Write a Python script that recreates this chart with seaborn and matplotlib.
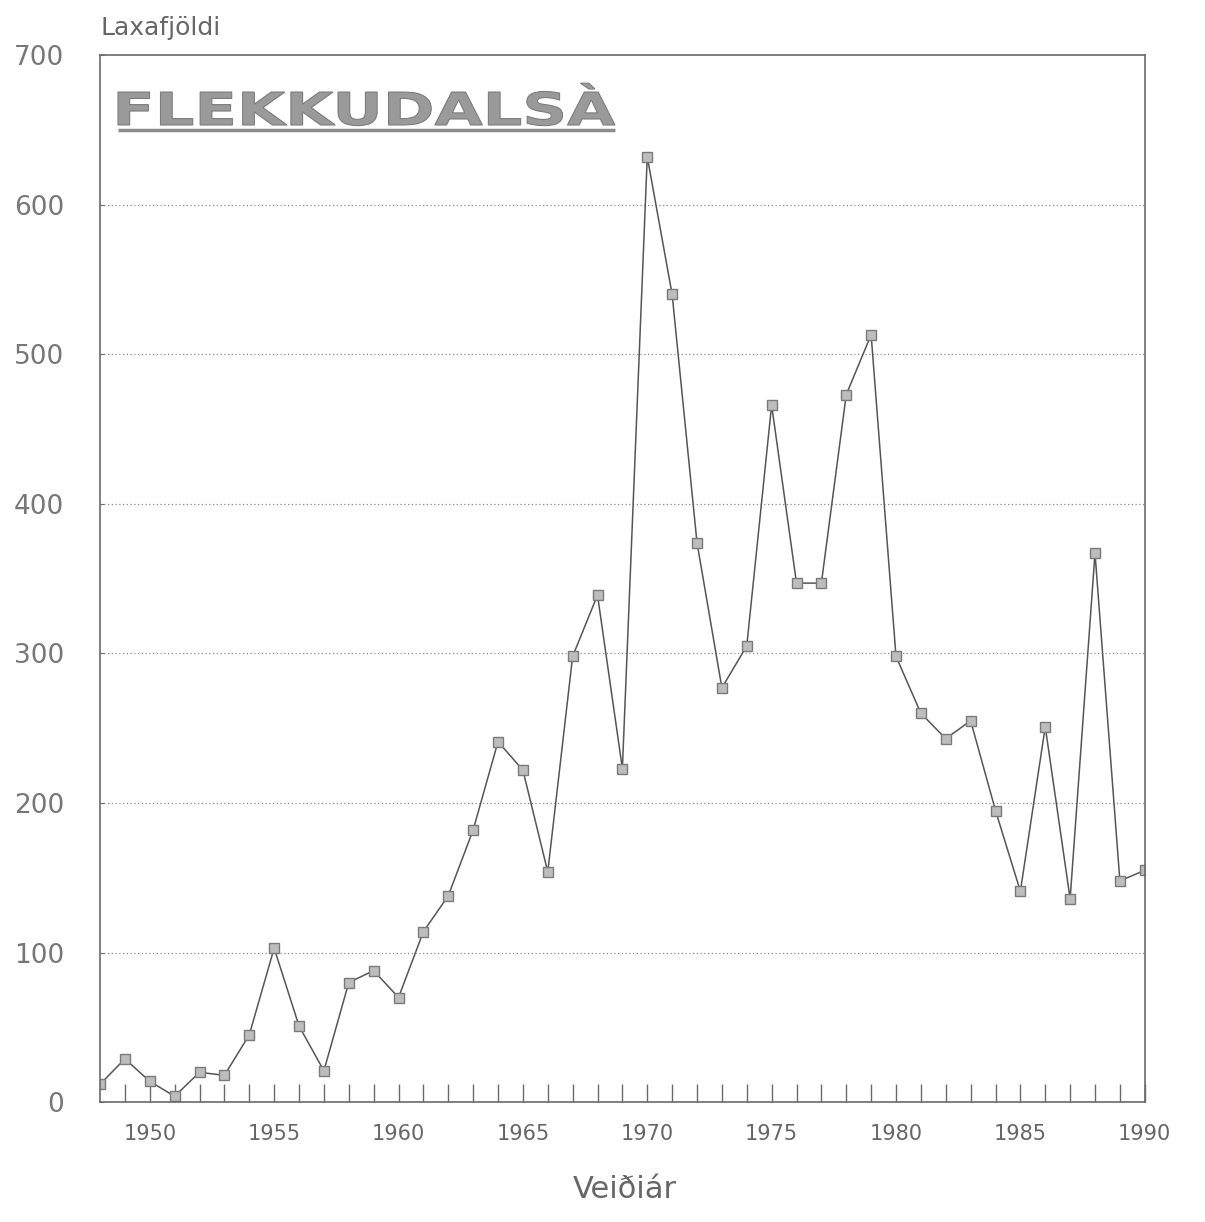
import numpy as np
import pandas as pd
import matplotlib
matplotlib.use("Agg")
import matplotlib.pyplot as plt
import seaborn as sns
from matplotlib.ticker import FixedLocator
from matplotlib.textpath import TextPath
from matplotlib.font_manager import FontProperties
from matplotlib.patches import PathPatch
from matplotlib.transforms import Affine2D, IdentityTransform

# Laxveiði í Flekkudalsá, 1948-1990 (lesið af myndinni)
years = list(range(1948, 1991))
catch = [12, 29, 14, 4, 20, 18, 45, 103, 51, 21,
         80, 88, 70, 114, 138, 182, 241, 222, 154, 298,
         339, 223, 632, 540, 374, 277, 305, 466, 347, 347,
         473, 513, 298, 260, 243, 255, 195, 141, 251, 136,
         367, 148, 155]
y_ticks = [0, 100, 200, 300, 400, 500, 600, 700]
x_ticks = [1950, 1955, 1960, 1965, 1970, 1975, 1980, 1985, 1990]

df = pd.DataFrame({"ar": years, "laxar": catch})

sns.set_style("white")
plt.rcParams["font.family"] = ["DejaVu Sans"]

grey = "#6a6a6a"
W, H = 1205, 1222
fig = plt.figure(figsize=(W / 100, H / 100), dpi=100)
ax = fig.add_axes([0.083, 0.098, 0.867, 0.857])

sns.lineplot(data=df, x="ar", y="laxar", ax=ax, color="#555555", lw=1.1,
             marker="s", markersize=7, markerfacecolor="#bdbdbd",
             markeredgecolor="#7a7a7a", markeredgewidth=1.0)

ax.set_xlim(1948, 1990)
ax.set_ylim(0, 700)
ax.set_xticks(x_ticks)
# one inner tick per year, not on the left spine
ax.xaxis.set_minor_locator(FixedLocator(years[1:-1]))
ax.set_yticks(y_ticks)

# dotted horizontal grid (not on the top line)
for v in y_ticks[1:-1]:
    ax.axhline(v, color="#8a8a8a", ls=(0, (1, 2)), lw=0.9, zorder=0)

for s in ax.spines.values():
    s.set_visible(True)
    s.set_color(grey)
    s.set_linewidth(1.2)

ax.tick_params(axis="x", which="both", bottom=True, direction="in", length=13,
               width=1.0, color=grey)
ax.tick_params(axis="x", which="major", labelsize=15, labelcolor="#666666",
               pad=16)
ax.tick_params(axis="y", which="both", left=True, direction="in", length=3,
               width=0.8, color=grey, labelsize=19, labelcolor="#777777", pad=26)
ax.set_xlabel("")
ax.set_ylabel("")

fig.text(0.083, 1 - 28 / H, "Laxafjöldi", fontsize=18, color="#666666",
         ha="left", va="center")
fig.text(625 / W, 1 - 1190 / H, "Veiðiár", fontsize=22, color="#666666",
         ha="center", va="center")

# wide, squat bold title, drawn as a stretched text path in pixel coords
tp = TextPath((0, 0), "FLEKKUDALSÀ", size=1,
              prop=FontProperties(family="DejaVu Sans", weight="bold"))
ext = tp.get_extents()
sx = (615 - 118) / ext.width
sy = 33 / 0.73
tr = (Affine2D().translate(-ext.x0, 0).scale(sx, sy)
      .translate(118, H - 125) + IdentityTransform())
fig.patches.append(PathPatch(tp, transform=tr, facecolor="#9a9a9a",
                             edgecolor="#7c7c7c", lw=0.8))
fig.add_artist(plt.Line2D([118 / W, 615 / W], [1 - 130 / H, 1 - 130 / H],
                          color="#8c8c8c", lw=2.5, solid_capstyle="butt"))

fig.savefig("out.png", dpi=100, facecolor="white")
